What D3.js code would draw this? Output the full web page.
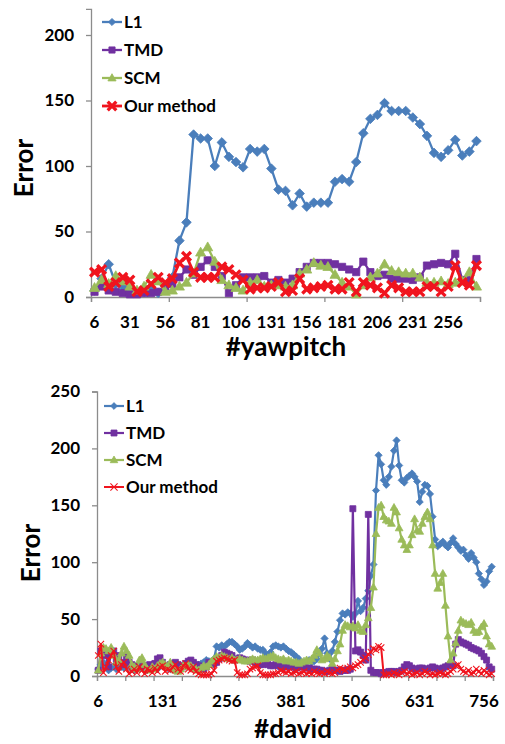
<!DOCTYPE html>
<html>
<head>
<meta charset="utf-8">
<script src="https://cdn.jsdelivr.net/npm/d3@7"></script>
<style>
body { margin: 0; background: #fff; }
text { font-family: Lato, "Open Sans", sans-serif; font-weight: bold; fill: #000; }
</style>
</head>
<body>
<div id="chart"></div>
<script>
var seriesNames = ["L1", "TMD", "SCM", "Our method"];
var colors = ["#4a7ebb", "#7030a0", "#9bbb59", "#f0141e"];

// #yawpitch, one value every 5 frames starting at frame 6
var yawL1 = [5,14,25,10,8,5,3,4,6,3,8,15,43,57,124,121,121,100,118,107,103,99,113,111,113,98,82,81,70,79,69,72,72,72,88,90,88,103,125,136,139,148,142,142,142,137,132,123,110,107,112,120,108,111,119];
var yawTMD = [4,8,5,4,3,2,2,3,3,4,8,10,15,21,17,23,28,23,16,3,9,15,15,15,16,11,13,11,14,19,23,26,26,26,25,23,21,19,27,19,16,17,14,14,14,13,15,24,25,26,25,33,13,13,29];
var yawSCM = [7,13,10,16,12,8,5,8,17,12,4,5,8,11,18,34,38,27,13,9,7,5,11,13,8,9,9,8,9,18,21,26,24,23,17,11,8,2,9,15,18,25,20,19,18,18,15,11,11,12,10,11,12,19,8];
var yawOurs = [19,21,8,11,15,13,4,5,10,15,11,14,26,31,19,15,15,15,23,21,17,13,6,7,7,8,11,4,5,14,6,7,8,9,6,6,11,4,11,9,7,3,9,7,4,4,4,8,8,4,8,24,11,9,24];
var yawTickLabels = [6,31,56,81,106,131,156,181,206,231,256];
var yawYTicks = [0,50,100,150,200];

// #david, one value every 5 frames starting at frame 6
var davidL1 = [6,10,12,8,5,7,9,6,11,8,7,9,10,6,5,8,7,9,6,5,8,10,7,6,9,11,8,7,6,9,10,8,7,9,11,10,12,9,8,10,11,12,14,13,12,15,
  26,25,27,26,28,30,30,28,26,23,24,26,29,27,25,26,24,23,23,20,18,21,26,27,26,25,26,24,22,21,
  19,17,15,12,11,12,14,12,13,15,20,24,33,20,15,22,30,39,49,55,54,56,55,52,55,66,57,60,68,75,
  88,98,163,194,186,172,168,175,184,198,207,185,172,170,174,176,178,175,171,153,162,168,167,160,140,120,114,116,118,115,
  113,117,121,116,113,110,111,106,103,108,104,100,90,85,80,83,92,96];
var davidTMD = [5,22,20,18,8,20,22,15,18,12,10,17,12,10,8,9,9,8,7,9,10,8,11,15,16,12,9,8,10,11,
  12,10,9,8,11,13,14,12,10,9,7,6,8,12,10,11,12,15,18,21,20,19,18,14,15,16,15,14,14,13,
  14,12,11,10,10,11,10,9,9,10,9,8,8,8,9,8,8,7,8,8,8,7,7,6,6,6,5,5,4,4,
  5,6,5,5,4,5,5,5,6,147,22,23,21,18,14,142,5,3,3,3,2,3,3,4,4,4,3,4,5,8,
  10,9,7,6,6,7,7,6,6,7,8,7,6,6,7,8,9,10,9,28,32,30,29,28,27,25,24,23,22,20,17,14,8,6];
var davidSCM = [5,20,25,24,22,25,18,12,14,20,26,22,18,10,8,6,14,16,10,6,5,8,6,9,11,12,10,8,12,7,
  5,4,6,9,8,10,9,7,6,5,7,9,8,10,13,15,17,16,18,17,16,15,16,14,14,15,14,13,13,14,
  15,14,14,15,16,15,16,17,18,16,15,14,15,13,14,13,12,12,11,12,13,14,13,15,18,23,20,14,15,18,
  16,11,15,22,28,40,45,44,43,44,42,45,40,39,45,51,60,78,125,148,150,140,137,136,134,148,144,130,120,115,
  111,115,124,138,128,127,134,140,144,138,115,90,77,82,90,62,35,14,20,29,40,49,47,46,45,47,40,38,39,43,46,35,28,26];
var davidOurs = [18,28,3,8,14,18,22,8,4,10,12,6,2,4,6,3,8,5,2,6,5,3,7,4,8,9,4,6,5,8,
  10,6,4,9,11,6,5,8,4,2,1,1,1,1,2,5,13,14,15,16,15,14,13,14,3,1,1,1,2,6,
  7,8,9,3,1,1,1,1,2,2,3,5,4,3,4,2,3,4,2,3,4,2,3,2,4,3,2,3,2,4,
  3,2,3,5,7,6,5,7,8,7,9,10,12,14,16,19,21,24,23,26,25,1,1,2,1,3,2,1,3,4,
  2,3,1,2,3,1,2,4,3,1,2,1,2,3,2,1,2,4,6,9,10,6,4,3,5,2,3,6,4,2,5,3,1,2];
var davidTickLabels = [6,131,256,381,506,631,756];
var davidYTicks = [0,50,100,150,200,250];

var svg = d3.select("#chart").append("svg")
  .attr("width", 505)
  .attr("height", 744);

// marker shapes, size = half width
function markerPath(kind, s) {
  if (kind == 0) return "M0," + (-s) + "L" + s + ",0L0," + s + "L" + (-s) + ",0Z";
  if (kind == 1) return "M" + (-s) + "," + (-s) + "H" + s + "V" + s + "H" + (-s) + "Z";
  if (kind == 2) return "M0," + (-s * 1.1) + "L" + (s * 1.05) + "," + (s * 0.75) + "L" + (-s * 1.05) + "," + (s * 0.75) + "Z";
  return "M" + (-s) + "," + (-s) + "L" + s + "," + s + "M" + (-s) + "," + s + "L" + s + "," + (-s);
}

function drawMarker(g, kind, s, xStroke, col) {
  var p = g.append("path").attr("d", markerPath(kind, s));
  if (kind == 3) p.attr("fill", "none").attr("stroke", col).attr("stroke-width", xStroke);
  else p.attr("fill", col).attr("stroke", col).attr("stroke-width", 0.8);
}

function panel(cfg) {
  var n = cfg.series[0].length;
  var frames = d3.range(n).map(function (i) { return 6 + 5 * i; });

  var x = d3.scaleBand().domain(frames).range([cfg.left, cfg.right]);
  var xEdge = d3.scaleLinear().domain([0, n]).range([cfg.left, cfg.right]);
  var y = d3.scaleLinear().domain([0, cfg.yMax]).range([cfg.bottom, cfg.top]);

  var g = svg.append("g");

  // axes
  var yAxis = g.append("g")
    .attr("transform", "translate(" + cfg.left + ",0)")
    .call(d3.axisLeft(y).tickValues(cfg.yTicks).tickSize(5).tickPadding(12));
  yAxis.selectAll("text").style("font-size", "17px");

  var xAxis = g.append("g")
    .attr("transform", "translate(0," + cfg.bottom + ")")
    .call(d3.axisBottom(xEdge).tickValues(d3.range(0, n + 1, 11)).tickSize(5).tickFormat(""));

  g.selectAll(".domain, .tick line").attr("stroke", "#8c8c8c").attr("stroke-width", 1.3);

  g.selectAll(".xlab")
    .data(cfg.tickLabels)
    .enter().append("text")
    .attr("class", "xlab")
    .attr("x", function (d) { return x(d) + x.bandwidth() / 2; })
    .attr("y", cfg.bottom + cfg.labelDy)
    .attr("text-anchor", "middle")
    .style("font-size", "17px")
    .text(function (d) { return d; });

  // titles
  g.append("text")
    .attr("transform", "translate(" + cfg.yTitleX + "," + cfg.yTitleY + ") rotate(-90)")
    .attr("text-anchor", "middle")
    .style("font-size", "26px")
    .text("Error");

  g.append("text")
    .attr("x", cfg.xTitleX)
    .attr("y", cfg.xTitleY)
    .attr("text-anchor", "middle")
    .style("font-size", "26px")
    .text(cfg.xTitle);

  // series
  var line = d3.line()
    .x(function (d, i) { return x(frames[i]) + x.bandwidth() / 2; })
    .y(function (d) { return y(d); });

  cfg.series.forEach(function (vals, k) {
    var s = g.append("g");
    s.append("path")
      .datum(vals)
      .attr("d", line)
      .attr("fill", "none")
      .attr("stroke", colors[k])
      .attr("stroke-width", cfg.lineWidth[k])
      .attr("stroke-linejoin", "round");

    vals.forEach(function (v, i) {
      var m = s.append("g")
        .attr("transform", "translate(" + (x(frames[i]) + x.bandwidth() / 2) + "," + y(v) + ")");
      drawMarker(m, k, cfg.markerSize[k], cfg.xStroke, colors[k]);
    });
  });

  // legend
  seriesNames.forEach(function (name, k) {
    var ly = cfg.legendY + k * cfg.legendStep;
    var lg = g.append("g");
    lg.append("line")
      .attr("x1", cfg.legendX).attr("x2", cfg.legendX + 20)
      .attr("y1", ly).attr("y2", ly)
      .attr("stroke", colors[k])
      .attr("stroke-width", cfg.lineWidth[k]);
    var m = lg.append("g").attr("transform", "translate(" + (cfg.legendX + 10) + "," + ly + ")");
    drawMarker(m, k, cfg.legendMarker[k], cfg.xStroke, colors[k]);
    lg.append("text")
      .attr("x", cfg.legendX + 22)
      .attr("y", ly)
      .attr("dy", "0.35em")
      .style("font-size", "17px")
      .text(name);
  });
}

panel({
  series: [yawL1, yawTMD, yawSCM, yawOurs],
  left: 91, right: 480, top: 8.8, bottom: 297, yMax: 220,
  yTicks: yawYTicks, tickLabels: yawTickLabels, labelDy: 31,
  xTitle: "#yawpitch", xTitleX: 286, xTitleY: 356,
  yTitleX: 33, yTitleY: 168,
  lineWidth: [2.3, 2.3, 2.3, 2.8], markerSize: [4.8, 3.6, 4.8, 4.4], xStroke: 3.3,
  legendX: 102, legendY: 22, legendStep: 28, legendMarker: [3.6, 3.1, 3.9, 4.3]
});

panel({
  series: [davidL1, davidTMD, davidSCM, davidOurs],
  left: 97, right: 493, top: 391.5, bottom: 676, yMax: 250,
  yTicks: davidYTicks, tickLabels: davidTickLabels, labelDy: 31,
  xTitle: "#david", xTitleX: 293, xTitleY: 738,
  yTitleX: 40, yTitleY: 553,
  lineWidth: [2.2, 2.2, 2.2, 2], markerSize: [3.6, 3, 3.7, 3.2], xStroke: 1.1,
  legendX: 104, legendY: 406, legendStep: 27, legendMarker: [3.4, 3, 3.6, 3.6]
});
</script>
</body>
</html>
